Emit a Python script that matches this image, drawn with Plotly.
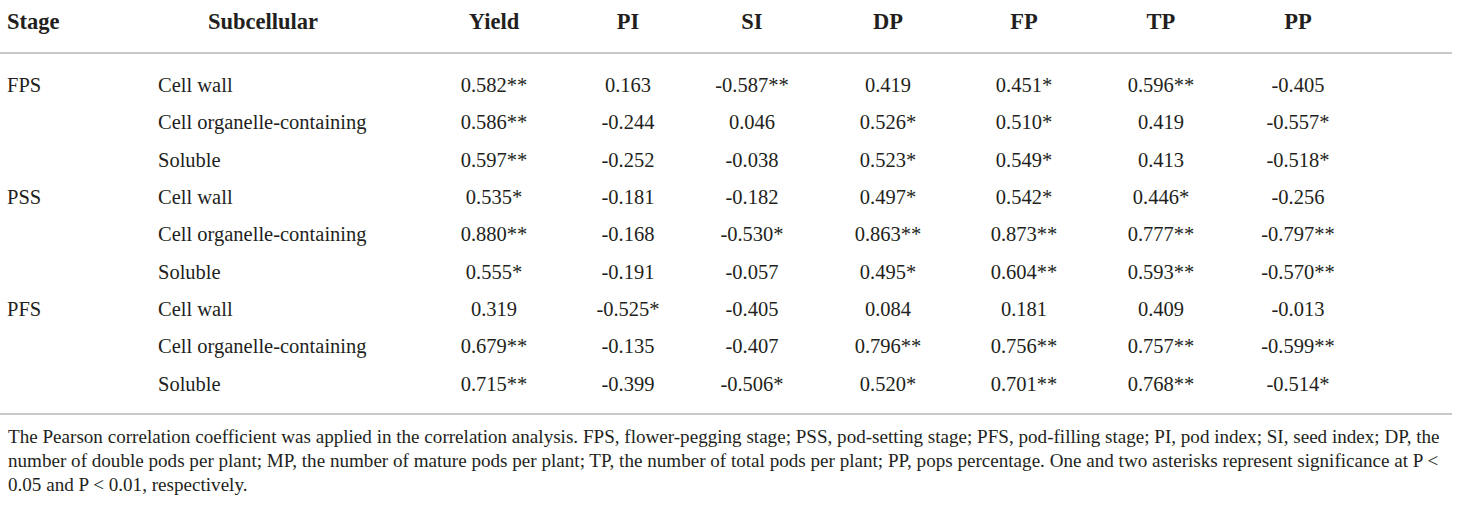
import plotly.graph_objects as go

# table content
stages = ["FPS", "PSS", "PFS"]
subcellular = ["Cell wall", "Cell organelle-containing", "Soluble"]
columns = ["Yield", "PI", "SI", "DP", "FP", "TP", "PP"]

yield_r = [0.582, 0.586, 0.597, 0.535, 0.880, 0.555, 0.319, 0.679, 0.715]
yield_s = [2, 2, 2, 1, 2, 1, 0, 2, 2]
pi_r = [0.163, -0.244, -0.252, -0.181, -0.168, -0.191, -0.525, -0.135, -0.399]
pi_s = [0, 0, 0, 0, 0, 0, 1, 0, 0]
si_r = [-0.587, 0.046, -0.038, -0.182, -0.530, -0.057, -0.405, -0.407, -0.506]
si_s = [2, 0, 0, 0, 1, 0, 0, 0, 1]
dp_r = [0.419, 0.526, 0.523, 0.497, 0.863, 0.495, 0.084, 0.796, 0.520]
dp_s = [0, 1, 1, 1, 2, 1, 0, 2, 1]
fp_r = [0.451, 0.510, 0.549, 0.542, 0.873, 0.604, 0.181, 0.756, 0.701]
fp_s = [1, 1, 1, 1, 2, 2, 0, 2, 2]
tp_r = [0.596, 0.419, 0.413, 0.446, 0.777, 0.593, 0.409, 0.757, 0.768]
tp_s = [2, 0, 0, 1, 2, 2, 0, 2, 2]
pp_r = [-0.405, -0.557, -0.518, -0.256, -0.797, -0.570, -0.013, -0.599, -0.514]
pp_s = [0, 1, 1, 0, 2, 2, 0, 2, 1]

footnote = [
    "The Pearson correlation coefficient was applied in the correlation analysis. FPS, flower-pegging stage; PSS, pod-setting stage; PFS, pod-filling stage; PI, pod index; SI, seed index; DP, the",
    "number of double pods per plant; MP, the number of mature pods per plant; TP, the number of total pods per plant; PP, pops percentage. One and two asterisks represent significance at P <",
    "0.05 and P < 0.01, respectively.",
]

# layout
W, H = 1460, 506
FONT = "Liberation Serif"
INK = "#231f20"
RULE = "#c8c8c8"
col_x = [494, 628, 752, 888, 1024, 1161, 1298]
stage_x = 7
sub_x = 158
sub_head_x = 263
head_y = 23
row0 = 87
row_h = 37.3
n_rows = len(stages) * len(subcellular)
row_y = [row0 + i * row_h for i in range(n_rows)]
body = dict(family=FONT, size=20.5, color=INK)
head = dict(family=FONT, size=22.5, color=INK)

fig = go.Figure()

# header
fig.add_trace(go.Scatter(
    x=[stage_x], y=[head_y], mode="text", text=["<b>Stage</b>"],
    textposition="middle right", textfont=head, hoverinfo="skip"))
fig.add_trace(go.Scatter(
    x=[sub_head_x] + col_x, y=[head_y] * (len(columns) + 1), mode="text",
    text=["<b>%s</b>" % c for c in ["Subcellular"] + columns],
    textposition="middle center", textfont=head, hoverinfo="skip"))

# stage and subcellular columns
fig.add_trace(go.Scatter(
    x=[stage_x] * len(stages), y=[row_y[i * 3] for i in range(len(stages))],
    mode="text", text=stages, textposition="middle right",
    textfont=body, hoverinfo="skip"))
fig.add_trace(go.Scatter(
    x=[sub_x] * n_rows, y=row_y, mode="text", text=subcellular * len(stages),
    textposition="middle right", textfont=body, hoverinfo="skip"))

# value columns
data = [(yield_r, yield_s), (pi_r, pi_s), (si_r, si_s), (dp_r, dp_s),
        (fp_r, fp_s), (tp_r, tp_s), (pp_r, pp_s)]
for cx, (vals, sig) in zip(col_x, data):
    labels = ["%.3f%s" % (v, "*" * s) for v, s in zip(vals, sig)]
    fig.add_trace(go.Scatter(
        x=[cx] * n_rows, y=row_y, mode="text", text=labels,
        textposition="middle center", textfont=body, hoverinfo="skip"))

# footnote
fig.add_trace(go.Scatter(
    x=[8] * len(footnote), y=[438, 462, 486], mode="text", text=footnote,
    textposition="middle right", textfont=dict(family=FONT, size=19.1, color=INK),
    hoverinfo="skip"))

# rules
for yy in [53, 414]:
    fig.add_shape(type="line", x0=0, x1=1452, y0=yy, y1=yy,
                  line=dict(color=RULE, width=2), layer="below")

fig.update_layout(
    width=W, height=H, margin=dict(l=0, r=0, t=0, b=0),
    paper_bgcolor="white", plot_bgcolor="white", showlegend=False,
    xaxis=dict(range=[0, W], visible=False, fixedrange=True),
    yaxis=dict(range=[H, 0], visible=False, fixedrange=True),
)

fig.write_html("out.html", config={"displayModeBar": False},
               post_script="document.body.style.margin='0';")
